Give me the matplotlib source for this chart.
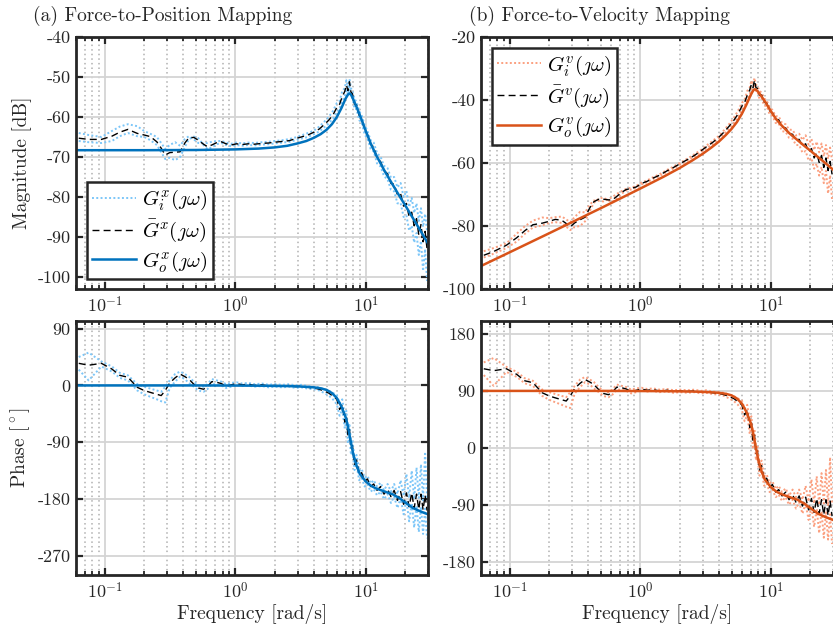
import matplotlib
matplotlib.use("Agg")
import matplotlib.pyplot as plt
from matplotlib.ticker import FixedLocator, LogLocator, NullFormatter

plt.rcParams['font.family'] = ['cmr10', 'DejaVu Serif']
plt.rcParams['mathtext.fontset'] = 'cm'
plt.rcParams['axes.unicode_minus'] = False
plt.rcParams['axes.formatter.use_mathtext'] = True

# ---------------- data ----------------
# model (identified) frequency grid [rad/s]
f_model = [0.06, 0.1, 0.2, 0.5, 1.0, 1.5, 2.0, 2.5, 3.0, 3.5, 4.0, 4.5, 5.0, 5.5, 6.0, 6.5,
           7.0, 7.3, 7.5, 7.7, 8.0, 8.5, 9.0, 10, 11, 12, 14, 16, 18, 20, 23, 26, 30]
pos_model_mag = [-68.3, -68.3, -68.3, -68.25, -68.1, -67.9, -67.6, -67.2, -66.6, -66.0, -65.2,
                 -64.3, -63.2, -61.8, -60.0, -57.8, -55.4, -54.4, -54.1, -54.4, -55.5, -57.5,
                 -59.5, -63.5, -66.9, -69.5, -73.6, -76.8, -79.6, -82.0, -85.3, -88.2, -91.6]
pos_model_phase = [0, 0, 0, 0, -0.2, -0.4, -0.7, -1.0, -1.5, -2.2, -3, -4.5, -7, -12, -20, -33,
                   -50, -65, -78, -90, -108, -127, -140, -152, -159, -163, -168, -172, -178,
                   -185, -194, -199, -204]
vel_model_mag = [-92.7, -88.3, -82.3, -74.3, -68.1, -64.4, -61.6, -59.2, -57.1, -55.1, -53.2,
                 -51.2, -49.2, -47.0, -44.4, -41.5, -38.5, -37.1, -36.6, -36.7, -37.4, -38.9,
                 -40.4, -43.5, -46.1, -47.9, -50.7, -52.7, -54.5, -56.0, -58.1, -59.9, -62.1]
vel_model_phase = [90, 90, 90, 90, 89.8, 89.6, 89.3, 89, 88.5, 87.8, 87, 85.5, 83, 78, 70, 57,
                   40, 25, 12, 0, -18, -37, -50, -62, -69, -73, -78, -82, -88, -95, -104, -109,
                   -114]

# measured frequency grid [rad/s]
f_meas = [0.063, 0.075, 0.094, 0.113, 0.13, 0.15, 0.177, 0.2, 0.223, 0.25,
          0.27, 0.29, 0.314, 0.345, 0.377, 0.41, 0.44, 0.48, 0.52, 0.57,
          0.61, 0.66, 0.72, 0.78, 0.85, 0.93, 1.02, 1.13, 1.25, 1.4,
          1.6, 1.8, 2.0, 2.3, 2.6, 2.9, 3.2, 3.6, 4.0, 4.4,
          4.8, 5.2, 5.6, 6.0, 6.3, 6.6, 6.9, 7.1, 7.3, 7.5,
          7.7, 7.9, 8.2, 8.5, 8.9, 9.3, 9.8, 10.3, 10.9, 11.5,
          12.2, 13.0, 13.8, 14.7, 15.6, 16.5, 17.5, 18.5, 19.5, 20.5,
          21.5, 22.5, 23.5, 24.5, 25.5, 26.5, 27.5, 28.5, 29.5]

# force-to-position: mean and two individual trials
pos_mean_mag = [-65.3, -65.6, -65.6, -64.8, -63.8, -63.1, -64.1, -64.5, -64.9, -66.2,
                -67.8, -69.5, -68.9, -68.8, -68.7, -66.5, -65.2, -65.1, -65.8, -66.8,
                -67.4, -67.0, -66.4, -66.2, -66.7, -67.0, -66.7, -66.9, -66.7, -66.8,
                -66.6, -66.5, -66.3, -66.1, -65.9, -65.4, -65.0, -64.5, -63.8, -63.0,
                -61.9, -60.8, -59.5, -57.6, -56.8, -54.9, -53.6, -52.0, -53.4, -51.2,
                -53.8, -54.2, -56.8, -57.0, -59.6, -60.4, -63.2, -64.4, -66.8, -67.5,
                -70.2, -71.2, -73.4, -74.2, -76.6, -76.8, -79.5, -79.2, -82.3, -81.6,
                -85.0, -83.8, -87.2, -85.4, -89.5, -86.9, -91.2, -88.6, -93.0]
pos_t1_mag = [-64.0, -64.5, -65.0, -63.5, -62.4, -61.8, -62.3, -63.5, -64.2, -65.0,
              -66.5, -68.0, -67.0, -66.3, -67.2, -65.5, -64.8, -65.6, -66.5, -66.6,
              -66.5, -66.2, -66.0, -66.0, -66.4, -66.7, -66.4, -66.6, -66.4, -66.5,
              -66.3, -66.2, -66.0, -65.8, -65.5, -65.1, -64.6, -64.0, -63.4, -62.4,
              -61.2, -60.0, -58.5, -56.5, -56.0, -53.5, -52.8, -50.8, -52.5, -50.5,
              -52.8, -53.5, -55.5, -56.2, -58.5, -59.6, -62.0, -63.5, -65.8, -66.4,
              -69.0, -70.0, -72.2, -72.8, -75.2, -75.0, -77.6, -76.5, -80.0, -78.5,
              -82.5, -80.2, -84.0, -81.6, -86.0, -82.8, -87.5, -84.2, -88.5]
pos_t2_mag = [-66.0, -66.3, -66.5, -66.0, -64.8, -64.0, -64.8, -65.0, -65.8, -67.0,
              -68.8, -70.5, -70.2, -70.8, -70.0, -67.5, -65.6, -64.9, -65.3, -67.0,
              -68.0, -67.6, -66.8, -66.5, -67.0, -67.3, -67.0, -67.2, -67.0, -67.1,
              -66.9, -66.8, -66.6, -66.4, -66.2, -65.8, -65.4, -65.0, -64.3, -63.6,
              -62.6, -61.6, -60.4, -58.8, -57.8, -56.2, -54.8, -53.3, -54.4, -52.4,
              -54.8, -55.2, -58.0, -58.0, -60.8, -61.3, -64.4, -65.4, -68.0, -68.6,
              -71.6, -72.4, -74.8, -75.6, -78.2, -78.6, -81.6, -81.5, -85.0, -84.6,
              -88.4, -87.2, -91.4, -89.0, -94.5, -91.0, -98.5, -93.0, -101.0]
pos_mean_phase = [35, 32, 35, 26, 16, 13, -3, -8, -11, -14,
                  -16, -8, 4, 12, 18, 14, 10, 2, -4, -6,
                  -2, 6, 5, 3, -1, 1, 3, 1, 2, 0,
                  1, -1, 0, -1, 0, -2, -1, -3, -4, -6,
                  -9, -12, -17, -22, -38, -30, -58, -48, -80, -70,
                  -100, -95, -125, -118, -142, -138, -152, -148, -160, -156,
                  -166, -160, -172, -164, -176, -166, -182, -168, -188, -170,
                  -192, -170, -194, -172, -196, -172, -197, -174, -198]
pos_t1_phase = [45, 52, 38, 30, 20, 16, 2, -2, -5, -8,
                -10, -2, 8, 18, 22, 18, 14, 6, 0, -2,
                2, 10, 8, 6, 2, 4, 5, 3, 4, 2,
                3, 1, 2, 1, 2, 0, 1, -1, -2, -3,
                -6, -8, -12, -15, -28, -22, -48, -40, -68, -60,
                -90, -86, -116, -110, -135, -132, -146, -143, -155, -150,
                -160, -154, -166, -156, -168, -156, -172, -150, -175, -140,
                -178, -135, -180, -130, -178, -125, -182, -105, -180]
pos_t2_phase = [25, 8, 30, 22, 12, 8, -8, -14, -18, -22,
                -25, -27, -4, 6, 14, 10, 4, -2, -8, -10,
                -6, 2, 2, 0, -4, -2, 1, -1, 0, -2,
                -1, -3, -2, -3, -2, -4, -3, -5, -6, -8,
                -12, -16, -22, -30, -48, -38, -68, -56, -92, -80,
                -110, -104, -134, -126, -150, -146, -160, -156, -168, -164,
                -174, -168, -180, -172, -186, -176, -194, -178, -204, -182,
                -215, -186, -225, -190, -232, -192, -235, -195, -242]

# force-to-velocity: mean and two individual trials
vel_mean_mag = [-89.3, -88.1, -86.1, -83.7, -81.5, -79.6, -79.1, -78.5, -77.9, -78.2,
                -79.2, -80.3, -79.0, -78.0, -77.2, -74.2, -72.3, -71.5, -71.5, -71.7,
                -71.7, -70.6, -69.3, -68.4, -68.1, -67.6, -66.5, -65.8, -64.8, -63.9,
                -62.5, -61.4, -60.3, -58.9, -57.6, -56.2, -54.9, -53.4, -51.8, -50.1,
                -48.3, -46.5, -44.5, -42.0, -40.8, -38.5, -36.8, -35.0, -36.1, -33.7,
                -36.1, -36.3, -38.5, -38.4, -40.6, -41.0, -43.4, -44.1, -46.1, -46.3,
                -48.5, -48.9, -50.6, -50.9, -52.7, -52.5, -54.6, -53.9, -56.5, -55.4,
                -58.4, -56.8, -59.8, -57.6, -61.4, -58.4, -62.4, -59.5, -63.6]
vel_t1_mag = [-88.0, -87.0, -85.5, -82.4, -80.1, -78.3, -77.3, -77.5, -77.2, -77.0,
              -77.9, -78.8, -77.1, -75.5, -75.7, -73.2, -71.9, -72.0, -72.2, -71.5,
              -70.8, -69.8, -68.9, -68.2, -67.8, -67.3, -66.2, -65.5, -64.5, -63.6,
              -62.2, -61.1, -60.0, -58.6, -57.2, -55.9, -54.5, -52.9, -51.4, -49.5,
              -47.6, -45.7, -43.5, -40.9, -40.0, -37.1, -36.0, -33.8, -35.2, -33.0,
              -35.1, -35.6, -37.2, -37.6, -39.5, -40.2, -42.2, -43.2, -45.1, -45.2,
              -47.3, -47.7, -49.4, -49.5, -51.3, -50.7, -52.7, -51.2, -54.2, -52.3,
              -55.9, -53.2, -56.6, -53.8, -57.9, -54.3, -58.7, -55.1, -59.1]
vel_t2_mag = [-90.0, -88.8, -87.0, -84.9, -82.5, -80.5, -79.8, -79.0, -78.8, -79.0,
              -80.2, -81.3, -80.3, -80.0, -78.5, -75.2, -72.7, -71.3, -71.0, -71.9,
              -72.3, -71.2, -69.7, -68.7, -68.4, -67.9, -66.8, -66.1, -65.1, -64.2,
              -62.8, -61.7, -60.6, -59.2, -57.9, -56.6, -55.3, -53.9, -52.3, -50.7,
              -49.0, -47.3, -45.4, -43.2, -41.8, -39.8, -38.0, -36.3, -37.1, -34.9,
              -37.1, -37.3, -39.7, -39.4, -41.8, -41.9, -44.6, -45.1, -47.3, -47.4,
              -49.9, -50.1, -52.0, -52.3, -54.3, -54.3, -56.7, -56.2, -59.2, -58.4,
              -61.8, -60.2, -64.0, -61.2, -66.4, -62.5, -69.7, -63.9, -71.6]
vel_mean_phase = [125, 122, 125, 116, 106, 103, 87, 82, 79, 76,
                  74, 82, 94, 102, 108, 104, 100, 92, 86, 84,
                  88, 96, 95, 93, 89, 91, 93, 91, 92, 90,
                  91, 89, 90, 89, 90, 88, 89, 87, 86, 84,
                  81, 78, 73, 68, 52, 60, 32, 42, 10, 20,
                  -10, -5, -35, -28, -52, -48, -62, -58, -70, -66,
                  -76, -70, -82, -74, -86, -76, -92, -78, -98, -80,
                  -102, -80, -104, -82, -106, -82, -107, -84, -108]
vel_t1_phase = [135, 142, 128, 120, 110, 106, 92, 88, 85, 82,
                80, 88, 98, 108, 112, 108, 104, 96, 90, 88,
                92, 100, 98, 96, 92, 94, 95, 93, 94, 92,
                93, 91, 92, 91, 92, 90, 91, 89, 88, 87,
                84, 82, 78, 75, 62, 68, 42, 50, 22, 30,
                0, 4, -26, -20, -45, -42, -56, -53, -65, -60,
                -70, -64, -76, -66, -78, -66, -82, -60, -85, -50,
                -88, -45, -90, -40, -88, -35, -92, -15, -90]
vel_t2_phase = [115, 98, 120, 112, 102, 98, 82, 76, 72, 68,
                65, 63, 86, 96, 104, 100, 94, 88, 82, 80,
                84, 92, 92, 90, 86, 88, 91, 89, 90, 88,
                89, 87, 88, 87, 88, 86, 87, 85, 84, 82,
                78, 74, 68, 60, 42, 52, 22, 34, -2, 10,
                -20, -14, -44, -36, -60, -56, -70, -66, -78, -74,
                -84, -78, -90, -82, -96, -86, -104, -88, -114, -92,
                -125, -96, -135, -100, -142, -102, -145, -105, -152]

x_limits = (0.06, 30)
x_major = [0.1, 1, 10]
x_major_labels = [r'$10^{-1}$', r'$10^{0}$', r'$10^{1}$']
pos_mag_ticks = [-100, -90, -80, -70, -60, -50, -40]
vel_mag_ticks = [-100, -80, -60, -40, -20]
pos_phase_ticks = [-270, -180, -90, 0, 90]
vel_phase_ticks = [-180, -90, 0, 90, 180]

# ---------------- style ----------------
BLUE = '#0072BD'
LBLUE = '#7CC6F8'
ORANGE = '#D95319'
LORANGE = '#FBA080'
AXC = '#262626'

W, H = 833, 628
fig = plt.figure(figsize=(W / 100, H / 100), dpi=100)


def rect(l, t, r, b):
    return [l / W, 1 - b / H, (r - l) / W, (b - t) / H]


ax_tl = fig.add_axes(rect(76, 37, 428, 289))
ax_tr = fig.add_axes(rect(481, 37, 833, 289))
ax_bl = fig.add_axes(rect(76, 321, 428, 575))
ax_br = fig.add_axes(rect(481, 321, 833, 575))


def style(ax, ylim, yticks, clip_right=False):
    ax.set_xscale('log')
    ax.set_xlim(*x_limits)
    ax.set_ylim(*ylim)
    ax.xaxis.set_major_locator(FixedLocator(x_major))
    ax.set_xticklabels(x_major_labels)
    ax.xaxis.set_minor_locator(LogLocator(base=10, subs=[2, 3, 4, 5, 6, 7, 8, 9], numticks=20))
    ax.xaxis.set_minor_formatter(NullFormatter())
    ax.set_yticks(yticks)
    ax.set_yticklabels([str(v) for v in yticks])
    ax.grid(True, which='major', color='#d4d4d4', lw=1.3, ls='-')
    ax.grid(True, which='minor', axis='x', color='#b0b0b0', lw=1.1, ls=(0, (1, 2)))
    ax.set_axisbelow(True)
    for s in ax.spines.values():
        s.set_linewidth(2.0)
        s.set_color(AXC)
    if clip_right:
        ax.spines['right'].set_visible(False)
    ax.tick_params(which='both', direction='in', top=True, right=not clip_right,
                   colors=AXC, labelcolor=AXC, labelsize=13)
    ax.tick_params(which='major', length=5, width=1.6, pad=4)
    ax.tick_params(which='minor', length=3, width=1.3)


def bode(ax, f_m, t1, t2, mean, f_o, model, lcol, col):
    l1, = ax.plot(f_m, t1, ls=(0, (1, 1.2)), lw=1.4, color=lcol)
    ax.plot(f_m, t2, ls=(0, (1, 1.2)), lw=1.4, color=lcol)
    l2, = ax.plot(f_m, mean, ls=(0, (5, 3)), lw=1.0, color='black')
    l3, = ax.plot(f_o, model, ls='-', lw=1.8, color=col)
    return [l1, l2, l3]


h_pos = bode(ax_tl, f_meas, pos_t1_mag, pos_t2_mag, pos_mean_mag, f_model, pos_model_mag,
             LBLUE, BLUE)
bode(ax_bl, f_meas, pos_t1_phase, pos_t2_phase, pos_mean_phase, f_model, pos_model_phase,
     LBLUE, BLUE)
h_vel = bode(ax_tr, f_meas, vel_t1_mag, vel_t2_mag, vel_mean_mag, f_model, vel_model_mag,
             LORANGE, ORANGE)
bode(ax_br, f_meas, vel_t1_phase, vel_t2_phase, vel_mean_phase, f_model, vel_model_phase,
     LORANGE, ORANGE)

style(ax_tl, (-103, -40), pos_mag_ticks)
style(ax_tr, (-100, -20), vel_mag_ticks, clip_right=True)
style(ax_bl, (-300, 102), pos_phase_ticks)
style(ax_br, (-201, 200.5), vel_phase_ticks, clip_right=True)

ax_tl.set_ylabel('Magnitude [dB]', fontsize=14, color=AXC, labelpad=4)
ax_bl.set_ylabel(r'Phase [$^\circ$]', fontsize=14, color=AXC, labelpad=4)
ax_bl.set_xlabel('Frequency [rad/s]', fontsize=14, color=AXC, labelpad=2)
ax_br.set_xlabel('Frequency [rad/s]', fontsize=14, color=AXC, labelpad=2)

leg_kw = dict(fontsize=15, frameon=True, fancybox=False, framealpha=1, edgecolor=AXC,
              handlelength=2.1, handletextpad=0.3, labelspacing=0.25, borderpad=0.25,
              borderaxespad=0)
lg1 = ax_tl.legend(h_pos, [r'$G_i^x(\jmath\omega)$', r'$\bar{G}^x(\jmath\omega)$',
                           r'$G_o^x(\jmath\omega)$'],
                   loc='lower left', bbox_to_anchor=(0.031, 0.04), **leg_kw)
lg1.get_frame().set_linewidth(1.8)
lg2 = ax_tr.legend(h_vel, [r'$G_i^v(\jmath\omega)$', r'$\bar{G}^v(\jmath\omega)$',
                           r'$G_o^v(\jmath\omega)$'],
                   loc='upper left', bbox_to_anchor=(0.031, 0.956), **leg_kw)
lg2.get_frame().set_linewidth(1.8)

fig.text(33 / W, 1 - 21 / H, '(a) Force-to-Position Mapping', fontsize=14, color=AXC,
         ha='left', va='baseline')
fig.text(469 / W, 1 - 21 / H, '(b) Force-to-Velocity Mapping', fontsize=14, color=AXC,
         ha='left', va='baseline')

fig.savefig('out.png', dpi=100)
